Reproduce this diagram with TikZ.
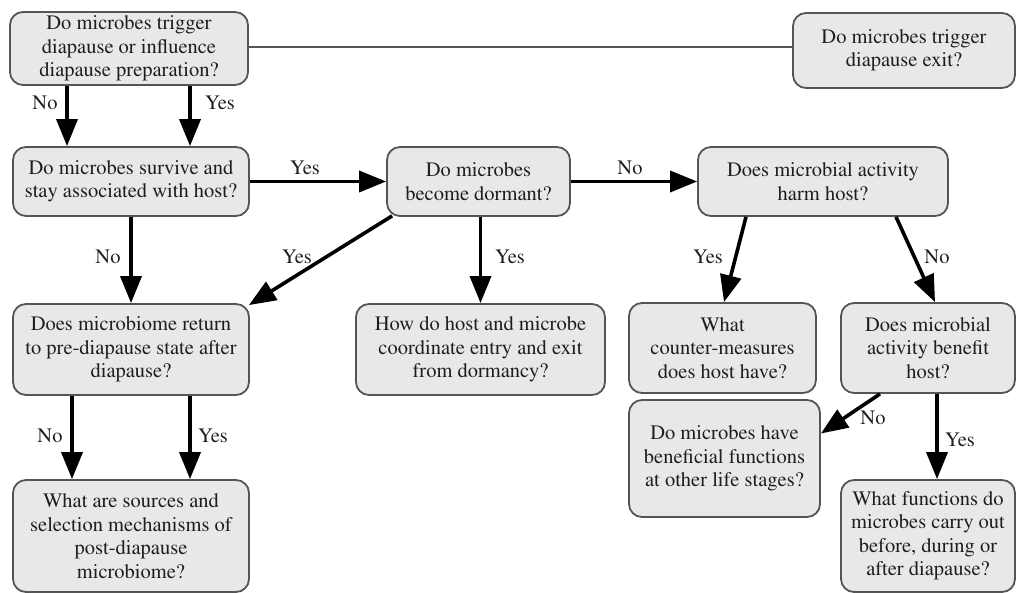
\documentclass[tikz,border=0pt]{standalone}
\usepackage[T1]{fontenc}
\usepackage{mathptmx}
\usetikzlibrary{arrows.meta}
\definecolor{boxfill}{HTML}{E8E8E8}
\definecolor{boxline}{HTML}{555555}
\definecolor{inkgray}{HTML}{1E1E1E}
\tikzset{
  qbox/.style={draw=boxline, line width=1.8pt, fill=boxfill, rounded corners=13pt, align=center, inner sep=2pt, text=inkgray},
  arr/.style={->, line width=3.6pt, draw=black},
  lbl/.style={inner sep=1pt, text=inkgray}
}
\begin{document}
\begin{tikzpicture}[x=1pt, y=-1pt, font=\fontsize{20.5}{23.5}\selectfont, line join=round, >={Triangle[length=27pt,width=21pt]}]
\useasboundingbox (0,0) rectangle (1016,593);
% boxes
\node[qbox, minimum width=238pt, minimum height=73pt] (A) at (129,48.5) {Do microbes trigger\\diapause or influence\\diapause preparation?};
\node[qbox, minimum width=222pt, minimum height=75pt] (B) at (904,50.5) {Do microbes trigger\\diapause exit?};
\node[qbox, minimum width=236pt, minimum height=69pt] (C) at (131,181.5) {Do microbes survive and\\stay associated with host?};
\node[qbox, minimum width=183pt, minimum height=69pt] (D) at (478.5,181.5) {Do microbes\\become dormant?};
\node[qbox, minimum width=250pt, minimum height=69pt] (E) at (823,181.5) {Does microbial activity\\harm host?};
\node[qbox, minimum width=236pt, minimum height=91pt] (F) at (131,349.5) {Does microbiome return\\to pre-diapause state after\\diapause?};
\node[qbox, minimum width=249pt, minimum height=91pt] (G) at (480.5,349.5) {How do host and microbe\\coordinate entry and exit\\from dormancy?};
\node[qbox, minimum width=187pt, minimum height=90pt] (H) at (722.5,348) {What\\counter-measures\\does host have?};
\node[qbox, minimum width=174pt, minimum height=90pt] (I) at (928,348) {Does microbial\\activity benefit\\host?};
\node[qbox, minimum width=191pt, minimum height=117pt] (J) at (724.5,458.5) {Do microbes have\\beneficial functions\\at other life stages?};
\node[qbox, minimum width=174pt, minimum height=112pt] (K) at (928,536) {What functions do\\microbes carry out\\before, during or\\after diapause?};
\node[qbox, minimum width=236pt, minimum height=112pt] (L) at (131,536) {What are sources and\\selection mechanisms of\\post-diapause\\microbiome?};
% connectors
\draw[line width=1.5pt, draw=boxline] ([yshift=1.5pt]A.east) -- ([yshift=1.5pt]A.east -| B.west);%to B
\draw[arr] ([xshift=-62pt]A.south) -- ([xshift=-62pt]A.south |- C.north);%from A
\draw[arr] ([xshift=61pt]A.south) -- ([xshift=61pt]A.south |- C.north);
\draw[arr] (C.east) -- (D.west);%from C
\draw[arr] (C.south) -- (F.north);
\draw[arr] (D.east) -- (E.west);%from D
\draw[arr] ([xshift=6pt,yshift=1pt]D.south west) -- ([xshift=-1pt,yshift=-2pt]F.north east);
\draw[arr] ([xshift=2pt]D.south) -- ([xshift=2pt]D.south |- G.north);
\draw[arr] ([xshift=-77pt]E.south) -- ([xshift=1.5pt]H.north);%from E
\draw[arr] ([xshift=73pt]E.south) -- ([xshift=7pt]I.north);
\draw[arr] ([xshift=-48pt]I.south) -- ([yshift=25pt]J.east);%from I
\draw[arr] ([xshift=9pt]I.south) -- ([xshift=9pt]I.south |- K.north);
\draw[arr] ([xshift=-59pt]F.south) -- ([xshift=-59pt]F.south |- L.north);%from F
\draw[arr] ([xshift=59pt]F.south) -- ([xshift=59pt]F.south |- L.north);
% labels
\node[lbl] (nAC) at (45,103) {No};
\node[lbl] (yAC) at (220,103) {Yes};
\node[lbl] (yCD) at (305,168) {Yes};
\node[lbl] (nDE) at (630,168) {No};
\node[lbl] (nCF) at (108,257) {No};
\node[lbl] (yDF) at (297,257) {Yes};
\node[lbl] (yDG) at (510,257) {Yes};
\node[lbl] (yEH) at (708,257) {Yes};
\node[lbl] (nEI) at (937,257) {No};
\node[lbl] (nIJ) at (873,418) {No};
\node[lbl] (yIK) at (960,440) {Yes};
\node[lbl] (nFL) at (50,436) {No};
\node[lbl] (yFL) at (213,436) {Yes};
\end{tikzpicture}
\end{document}
